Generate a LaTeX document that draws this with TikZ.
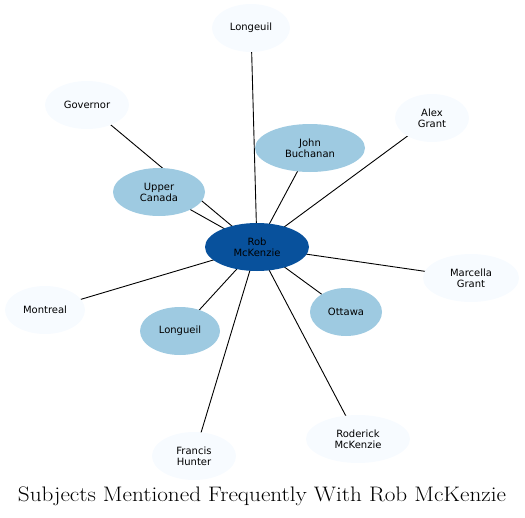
\documentclass[tikz,border=0pt]{standalone}
\usepackage{fontspec}
\newfontfamily\subjfont{DejaVu Sans}
\definecolor{hubblue}{HTML}{08519C}
\definecolor{midblue}{HTML}{9ECAE1}
\definecolor{paleblue}{HTML}{F7FBFF}
\usetikzlibrary{shapes.geometric,backgrounds}
\tikzset{
  subj/.style  = {ellipse,inner sep=0pt,align=center,minimum height=48pt,
                  font=\subjfont\fontsize{10}{11}\selectfont},
  hub/.style   = {subj,fill=hubblue,minimum width=104pt},
  near/.style  = {subj,fill=midblue},
  far/.style   = {subj,fill=paleblue},
  link/.style  = {line width=0.9pt,draw=black},
  ttl/.style   = {font=\fontsize{21}{24}\selectfont},
}

\begin{document}
\begin{tikzpicture}[x=1pt,y=-1pt]
  \useasboundingbox (0,0) rectangle (525,517);
  % centre
  \node[hub] (rob) at (257,247) {Rob\\McKenzie};
  % frequent subjects
  \node[near,minimum width=110pt] (buchanan) at (310,148) {John\\Buchanan};
  \node[near,minimum width=92pt]  (upper)    at (159,192) {Upper\\Canada};
  \node[near,minimum width=80pt]  (longlow)  at (180,331) {Longueil};
  \node[near,minimum width=72pt]  (ottawa)   at (346,312) {Ottawa};
  % occasional subjects
  \node[far,minimum width=78pt]  (longtop)  at (251,28)  {Longeuil};
  \node[far,minimum width=84pt]  (governor) at (87,105)  {Governor};
  \node[far,minimum width=74pt]  (alex)     at (432,118) {Alex\\Grant};
  \node[far,minimum width=96pt]  (marcella) at (471,278) {Marcella\\Grant};
  \node[far,minimum width=80pt]  (montreal) at (45,310)  {Montreal};
  \node[far,minimum width=84pt]  (francis)  at (194,456) {Francis\\Hunter};
  \node[far,minimum width=104pt] (roderick) at (358,439) {Roderick\\McKenzie};
  % links behind the ellipses
  \begin{scope}[on background layer]
    \foreach \other in {longtop,governor,alex,buchanan,upper,marcella,
                        montreal,longlow,ottawa,francis,roderick}{
      \draw[link] (rob.center) -- (\other.center);
    }
  \end{scope}
  \node[ttl] (title) at (262,496)
    {\scalebox{1.105}[1]{Subjects Mentioned Frequently With Rob McKenzie}};
\end{tikzpicture}
\end{document}
